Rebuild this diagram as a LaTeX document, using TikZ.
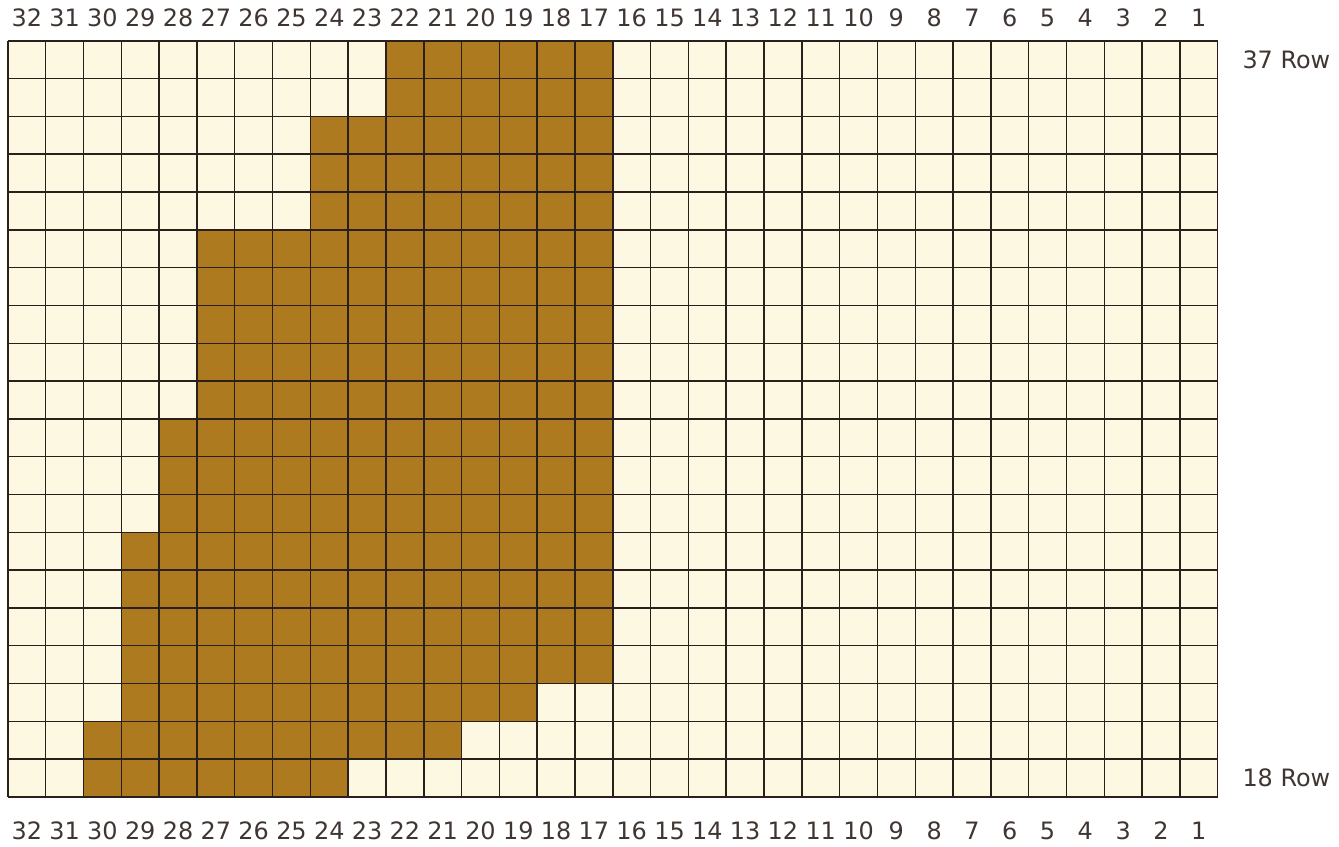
\documentclass[tikz,border=0pt]{standalone}
\usepackage{fontspec}
\setmainfont{DejaVu Sans}
\definecolor{cream}{HTML}{FCF8E2}
\definecolor{bead}{HTML}{AD7A20}
\definecolor{gridink}{HTML}{2A1F1A}

\begin{document}
\begin{tikzpicture}[
  cell/.style={fill=bead},
  gridline/.style={draw=gridink,line width=1.1pt},
  collabel/.style={font=\fontsize{18}{21}\selectfont,text=gridink!90,inner sep=0pt},
  rowlabel/.style={font=\fontsize{18}{21}\selectfont,text=gridink!90,anchor=west,inner sep=0pt}
]
  \useasboundingbox (-0.21,-1.30) rectangle (35.21,21.08);
  \fill[cream] (0,0) rectangle (32,20);

  % row / first column / last column of the coloured part
  \foreach \r/\a/\b in {37/22/17,36/22/17,35/24/17,34/24/17,33/24/17,
                        32/27/17,31/27/17,30/27/17,29/27/17,28/27/17,
                        27/28/17,26/28/17,25/28/17,
                        24/29/17,23/29/17,22/29/17,21/29/17,
                        20/29/19,19/30/21,18/30/24}
    \fill[cell] (32-\a,\r-18) rectangle (33-\b,\r-17);

  \draw[gridline] (0,0) grid (32,20);

  \foreach \c in {1,...,32} {
    \node[collabel] (top-\c) at (32.5-\c,20.61) {\c};
    \node[collabel] (bot-\c) at (32.5-\c,-0.90) {\c};
  }
  \node[rowlabel] (row37) at (32.65,19.5) {37 Row};
  \node[rowlabel] (row18) at (32.65,0.5) {18 Row};
\end{tikzpicture}
\end{document}
